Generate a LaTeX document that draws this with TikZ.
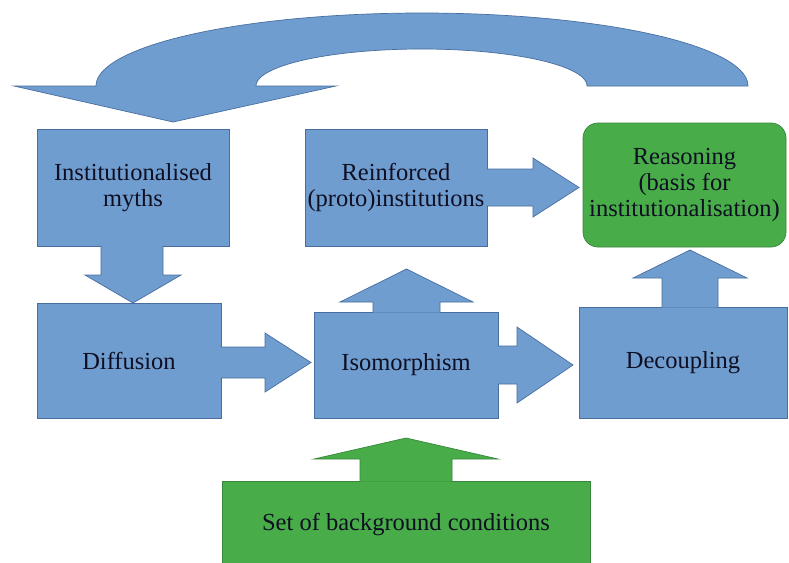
\documentclass[tikz,border=0pt]{standalone}
\usepackage{fontspec}
\setmainfont{Liberation Serif}
\definecolor{bfill}{RGB}{112,157,207}
\definecolor{bline}{RGB}{72,110,160}
\definecolor{gfill}{RGB}{72,173,72}
\definecolor{gline}{RGB}{55,135,60}
\definecolor{txt}{RGB}{15,15,35}
\begin{document}
\begin{tikzpicture}[x=1pt,y=-1pt,
  box/.style={draw=bline, fill=bfill, line width=0.7pt, inner sep=0pt, outer sep=0pt,
    align=center, text=txt, font=\fontsize{24.5}{26}\selectfont},
  gbox/.style={box, draw=gline, fill=gfill},
  barrow/.style={draw=bline, fill=bfill, line width=0.7pt, line join=miter},
  garrow/.style={draw=gline, fill=gfill, line width=0.7pt, line join=miter}]
\clip (0,0) rectangle (789,562);
\fill[white] (0,0) rectangle (789,562);

% boxes
\node[box, minimum width=192pt, minimum height=117pt] (myths) at (133,187.5) {Institutionalised\\myths};
\node[box, minimum width=184pt, minimum height=115pt] (diff) at (129,360.5) {Diffusion};
\node[box, minimum width=182pt, minimum height=117pt] (reinf) at (396,187.5) {Reinforced\\(proto)institutions};
\node[box, minimum width=184pt, minimum height=106pt] (iso) at (406,365) {Isomorphism};
\node[box, minimum width=208pt, minimum height=111pt] (decoup) at (683,362.5) {Decoupling};
\node[gbox, rounded corners=15pt, minimum width=203pt, minimum height=124pt] (reason) at (684.5,185) {Reasoning\\(basis for\\institutionalisation)};
\node[gbox, minimum width=368pt, minimum height=88pt] (bg) at (406,525) {Set of background conditions};

% arrows attached to boxes
\filldraw[barrow] (101,245.5) -- (101,275) -- (85,275) -- (133,303) -- (181,275) -- (163,275) -- (163,245.5);
\filldraw[barrow] (220.5,347) -- (265,347) -- (265,333) -- (311,362.5) -- (265,392) -- (265,378) -- (220.5,378);
\filldraw[barrow] (486.5,169) -- (533,169) -- (533,158) -- (579,187.5) -- (533,217) -- (533,206) -- (486.5,206);
\filldraw[barrow] (373,312.5) -- (373,302) -- (340,302) -- (406.5,269) -- (473,302) -- (440,302) -- (440,312.5);
\filldraw[barrow] (497.5,346) -- (517,346) -- (517,327) -- (573,365) -- (517,403) -- (517,384) -- (497.5,384);
\filldraw[barrow] (662,307.5) -- (662,278) -- (633,278) -- (690,250) -- (747,278) -- (718,278) -- (718,307.5);
\filldraw[garrow] (360,481.5) -- (360,459) -- (314,459) -- (406,438) -- (498,459) -- (452,459) -- (452,481.5);

% curved arrow on top
\filldraw[barrow] (748,86) -- plot[domain=0:180,samples=90] ({422+326*cos(\x)},{86-73*sin(\x)})
  -- (14,86) -- (173,122) -- (336,86) -- (256,86)
  -- plot[domain=180:0,samples=90] ({421.5+165.5*cos(\x)},{86-37*sin(\x)}) -- cycle;
\end{tikzpicture}
\end{document}
